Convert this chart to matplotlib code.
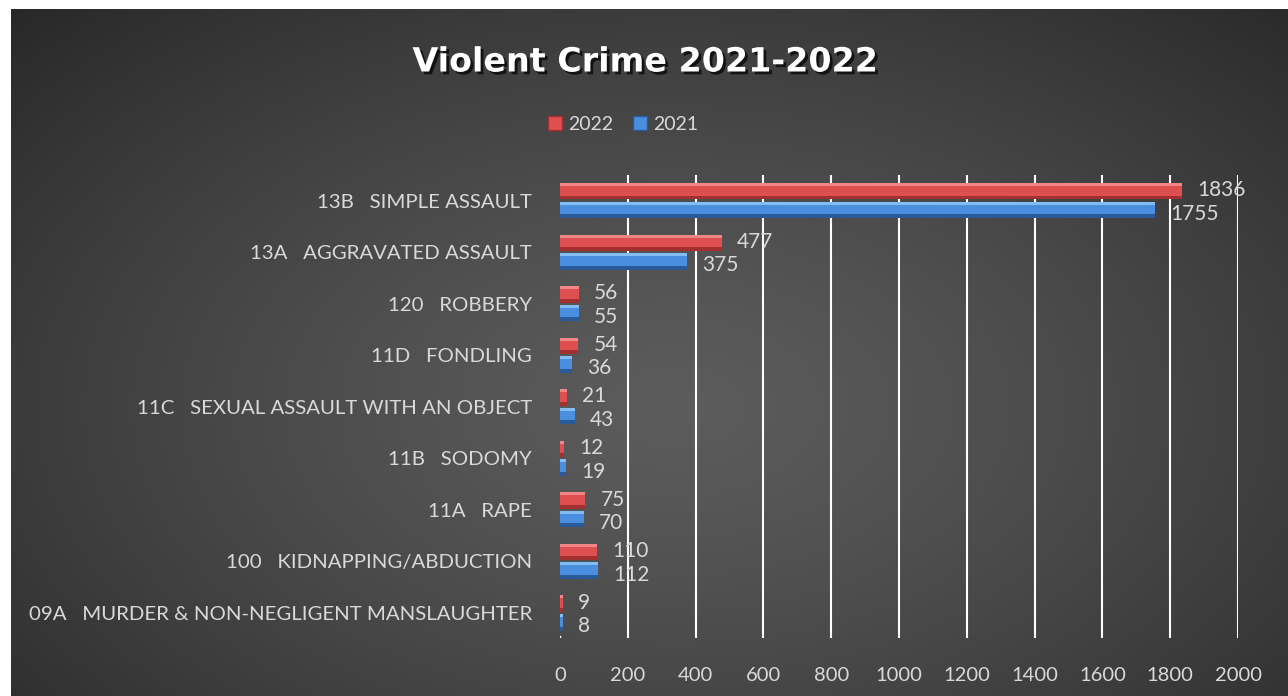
import numpy as np
import matplotlib
matplotlib.use('Agg')
import matplotlib.pyplot as plt
import matplotlib.patheffects as pe
from matplotlib.patches import Patch

# data, listed bottom to top
categories = ['09A   MURDER & NON-NEGLIGENT MANSLAUGHTER', '100   KIDNAPPING/ABDUCTION', '11A   RAPE',
              '11B   SODOMY', '11C   SEXUAL ASSAULT WITH AN OBJECT', '11D   FONDLING', '120   ROBBERY',
              '13A   AGGRAVATED ASSAULT', '13B   SIMPLE ASSAULT']
values_2022 = [9, 110, 75, 12, 21, 54, 56, 477, 1836]
values_2021 = [8, 112, 70, 19, 43, 36, 55, 375, 1755]
x_ticks = list(range(0, 2001, 200))

plt.rcParams['font.family'] = ['Lato', 'DejaVu Sans']
txt = '#d9d9d9'

W, H = 1288, 696
fig = plt.figure(figsize=(W / 100, H / 100), dpi=100, facecolor='white')

# background with radial gradient
bg = fig.add_axes([11 / W, 0, 1 - 11 / W, 1 - 9 / H])
bg.axis('off')
yy, xx = np.mgrid[0:1:300j, 0:1:600j]
d = np.sqrt(((xx - 0.52) / 0.75) ** 2 + ((yy - 0.42) / 0.85) ** 2)
d = np.clip(d, 0, 1)
shade = 0.36 - 0.21 * d ** 1.3
bg.imshow(np.dstack([shade] * 3), aspect='auto', extent=[0, 1, 0, 1], origin='lower')
bg.set_xlim(0, 1)
bg.set_ylim(0, 1)

ax = fig.add_axes([560 / W, 1 - 638 / H, (1238 - 560) / W, (638 - 175) / H])
ax.patch.set_alpha(0)
y = np.arange(len(categories))
h = 0.32
off = 0.18

def bevel_bar(ypos, vals, light, mid, dark):
    ax.barh(ypos, vals, height=h, color=mid, zorder=3)
    ax.barh(ypos + h * 0.41, vals, height=h * 0.18, color=light, zorder=4)
    ax.barh(ypos - h * 0.38, vals, height=h * 0.24, color=dark, zorder=4)

bevel_bar(y + off, values_2022, '#f28585', '#de5050', '#a33030')
bevel_bar(y - off, values_2021, '#84bdf2', '#4a8ee0', '#2a5a98')

for i in range(len(categories)):
    ax.annotate(str(values_2022[i]), (values_2022[i], y[i] + off), xytext=(15, 1),
                textcoords='offset pixels', va='center', ha='left', color=txt, fontsize=15)
    ax.annotate(str(values_2021[i]), (values_2021[i], y[i] - off), xytext=(15, -4),
                textcoords='offset pixels', va='center', ha='left', color=txt, fontsize=15)

ax.set_xlim(0, 2000)
ax.set_ylim(-0.485, 8.495)
for xv in x_ticks[1:]:
    ax.axvline(xv, color='white', lw=1.5, zorder=1)
ax.plot([0, 0], [-0.485, -0.44], color='white', lw=1, zorder=1)
ax.set_xticks(x_ticks)
ax.set_xticklabels([str(v) for v in x_ticks])
ax.set_yticks(y)
ax.set_yticklabels(categories)
ax.tick_params(axis='x', length=0, pad=21, colors=txt, labelsize=14.5)
ax.tick_params(axis='y', length=0, pad=20, colors=txt, labelsize=14.7)
for s in ax.spines.values():
    s.set_visible(False)

fig.text(645 / W, 1 - 62 / H, 'Violent Crime 2021-2022', ha='center', va='center',
         fontsize=24, fontweight='bold', color='white', family='DejaVu Sans',
         path_effects=[pe.SimplePatchShadow(offset=(2, -2), shadow_rgbFace='black', alpha=0.7), pe.Normal()])

handles = [Patch(facecolor='#de5050', edgecolor='#a33030', label='2022'),
           Patch(facecolor='#4a8ee0', edgecolor='#2a5a98', label='2021')]
fig.legend(handles=handles, loc='center', bbox_to_anchor=(623 / W, 1 - 124 / H), ncol=2, frameon=False,
           handlelength=0.75, handleheight=0.75, handletextpad=0.3, columnspacing=1.0,
           fontsize=14, labelcolor=txt)

fig.savefig('out.png', dpi=100, facecolor='white')
